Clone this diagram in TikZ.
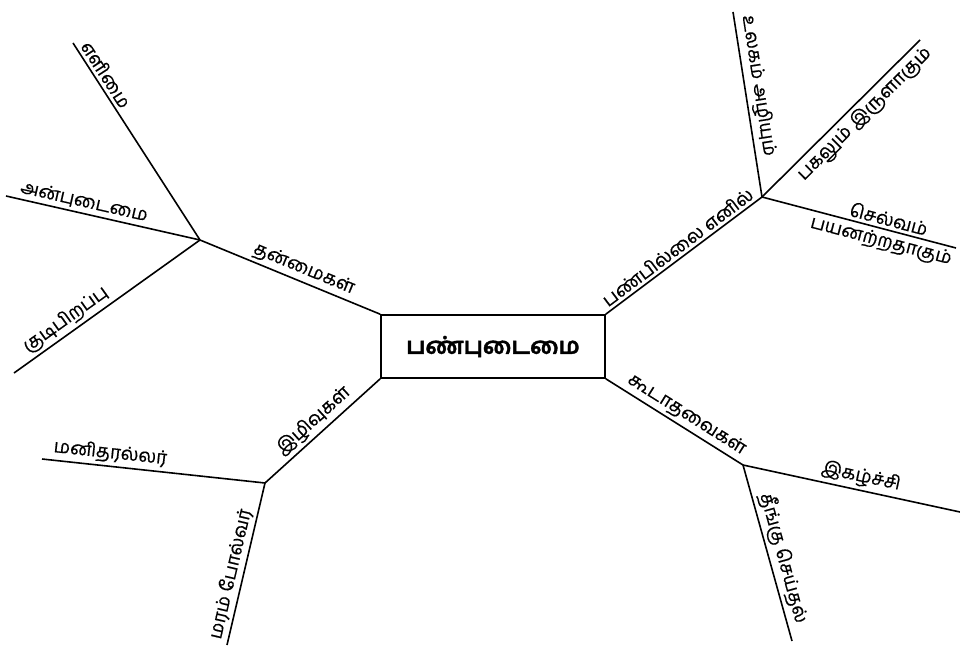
\documentclass[tikz,border=0pt]{standalone}
\usepackage{fontspec}
\newfontfamily\tamilfont[Script=Tamil, FakeBold=0.5]{Hind Madurai}
\newfontfamily\tamilheavy[Script=Tamil, FakeBold=1.5]{Hind Madurai}
\tikzset{
  branch/.style={line width=1.6pt},
  leaf/.style={font=\tamilfont\fontsize{18.5}{22}\selectfont, sloped, inner sep=3pt},
  corebox/.style={draw, line width=1.6pt, minimum width=224pt, minimum height=63pt, inner sep=0pt,
    font=\tamilheavy\bfseries\fontsize{23}{27}\selectfont},
}
\begin{document}
\begin{tikzpicture}[x=1pt,y=1pt]
\useasboundingbox (0,0) rectangle (960,646);
\node[corebox] (core) at (493,299.5) {பண்புடைமை};

\coordinate (hubTL) at (200,406);
\coordinate (endEasy) at (73,603);
\coordinate (endLove) at (6,450);
\coordinate (endBirth) at (14,273);
\coordinate (hubBL) at (265,163);
\coordinate (endHuman) at (42,187);
\coordinate (endTree) at (227,1);
\coordinate (hubTR) at (762,449);
\coordinate (endWorld) at (733,634);
\coordinate (endDay) at (920,606);
\coordinate (endWealth) at (956,398);
\coordinate (hubBR) at (743,181);
\coordinate (endScorn) at (960,134);
\coordinate (endHarm) at (792,5);

% left top
\draw[branch] (hubTL) -- (core.north west) node[leaf, above, pos=0.55] {தன்மைகள்};
\draw[branch] (endEasy) -- (hubTL) node[leaf, above, pos=0.19] {எளிமை};
\draw[branch] (endLove) -- (hubTL) node[leaf, above, pos=0.39] {அன்புடைமை};
\draw[branch] (endBirth) -- (hubTL) node[leaf, above, pos=0.32] {குடிபிறப்பு};

% left bottom
\draw[branch] (hubBL) -- (core.south west) node[leaf, above, pos=0.5] {இழிவுகள்};
\draw[branch] (endHuman) -- (hubBL) node[leaf, above, pos=0.3] {மனிதரல்லர்};
\draw[branch] (endTree) -- (hubBL) node[leaf, above, pos=0.42] {மரம் போல்வர்};

% right top
\draw[branch] (core.north east) -- (hubTR) node[leaf, above, pos=0.5] {பண்பில்லை எனில்};
\draw[branch] (endWorld) -- (hubTR) node[leaf, above, pos=0.41] {உலகம் அழியும்};
\draw[branch] (hubTR) -- (endDay) node[leaf, below, pos=0.59] {பகலும் இருளாகும்};
\draw[branch] (hubTR) -- (endWealth) node[leaf, above, pos=0.64] {செல்வம்}
  node[leaf, below, pos=0.63] {பயனற்றதாகும்};

% right bottom
\draw[branch] (core.south east) -- (hubBR) node[leaf, above, pos=0.54] {கூடாதவைகள்};
\draw[branch] (hubBR) -- (endScorn) node[leaf, above, pos=0.53] {இகழ்ச்சி};
\draw[branch] (hubBR) -- (endHarm) node[leaf, above, pos=0.55] {தீங்கு செய்தல்};
\end{tikzpicture}
\end{document}
